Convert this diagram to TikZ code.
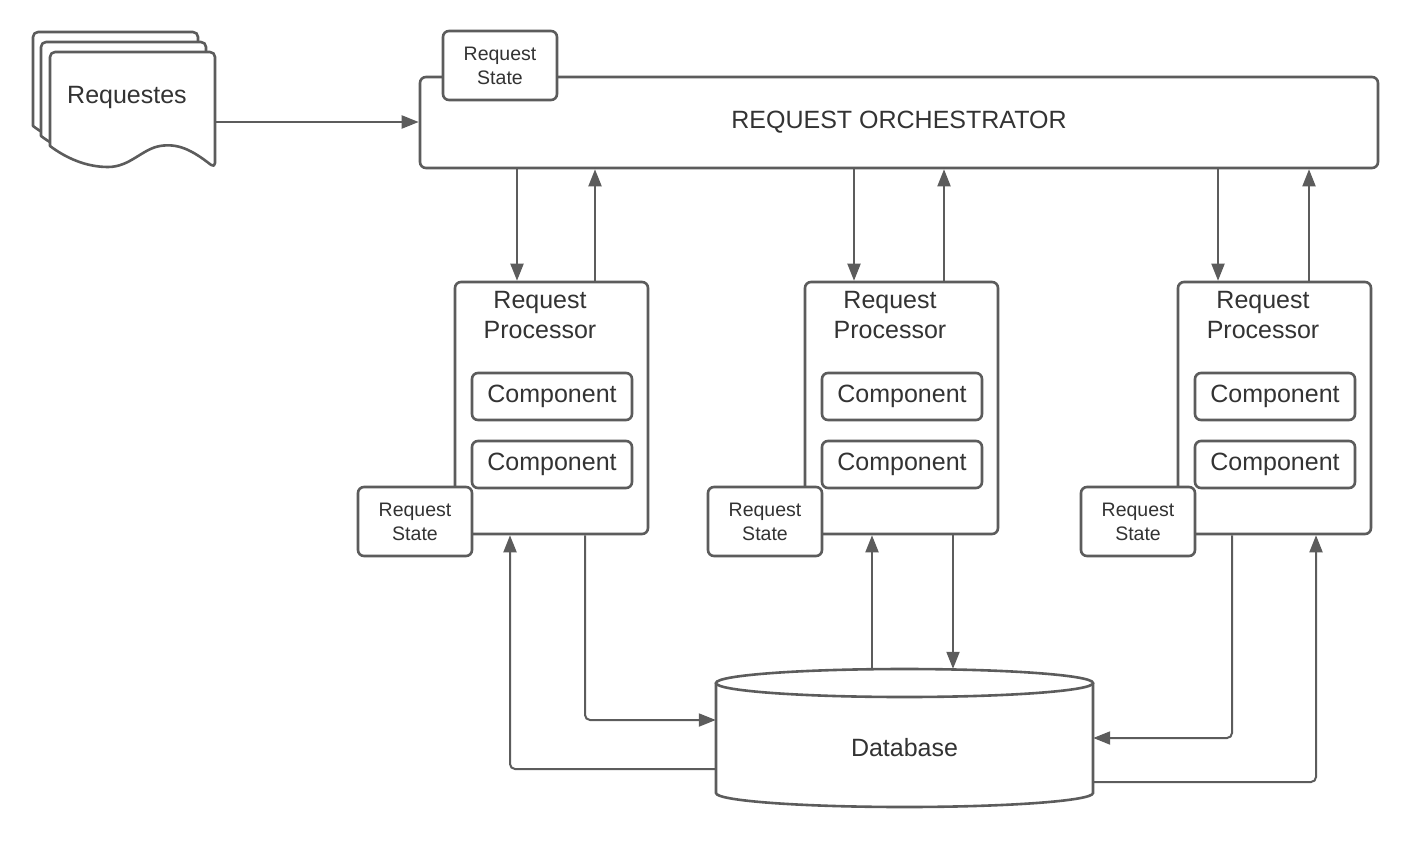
\documentclass[tikz,border=0pt]{standalone}
\usepackage{fontspec}
\setmainfont{Liberation Sans}
\usetikzlibrary{arrows.meta,positioning}
\definecolor{linegray}{HTML}{5C5C5C}
\definecolor{textgray}{HTML}{333333}
\newcommand{\docshape}{(50,146) -- (50,52) -- (215,52) -- (215,168)
  [sharp corners] .. controls (192,150) and (178,143) .. (160,146)
  .. controls (142,149) and (130,167) .. (108,167)
  .. controls (86,167) and (66,158) .. (50,146) -- cycle}

\begin{document}
\begin{tikzpicture}[
x=1pt,y=-1pt,
box/.style={
  draw=linegray,
  line width=2.6pt,
  fill=white,
  rounded corners=6pt,
  text=textgray,
  font=\fontsize{25}{30}\selectfont,
  align=center,
  inner sep=0pt
},
statebox/.style={
  box,
  minimum width=114pt,
  minimum height=69pt,
  font=\fontsize{19.5}{24}\selectfont
},
procbox/.style={
  box,
  minimum width=193pt,
  minimum height=252pt
},
comp/.style={
  box,
  minimum width=160pt,
  minimum height=47pt
},
title/.style={
  text=textgray,
  font=\fontsize{25}{30}\selectfont,
  align=center,
  inner sep=0pt
},
doc/.style={
  draw=linegray,
  line width=2.6pt,
  fill=white,
  line join=round,
  rounded corners=5pt
},
flow/.style={
  draw=linegray,
  line width=2pt,
  rounded corners=5pt,
  -{Triangle[length=17pt,width=13pt]}
}
]
\useasboundingbox (0,0) rectangle (1420,846);

% requests stack
\begin{scope}[shift={(-17,-20)}]
\draw[doc] \docshape;
\end{scope}
\begin{scope}[shift={(-9,-10)}]
\draw[doc] \docshape;
\end{scope}
\draw[doc] \docshape;
\node[title] (req) at (127,97) {Requestes};
\coordinate (reqr) at (215,122);

% orchestrator
\node[box,minimum width=958pt,minimum height=91pt] (orch) at (899,122.5)
  {REQUEST ORCHESTRATOR};
\node[statebox] (st0) at (500,65.5) {Request\\State};

% processors
\node[procbox] (p1) at (551.5,408) {};
\node[procbox] (p2) at (901.5,408) {};
\node[procbox] (p3) at (1274.5,408) {};

\node[title] (t1) at (540,315) {Request\\Processor};
\node[title] (t2) at (890,315) {Request\\Processor};
\node[title] (t3) at (1263,315) {Request\\Processor};

\node[comp] (c11) at (552,396.5) {Component};
\node[comp] (c12) at (552,464.5) {Component};
\node[comp] (c21) at (902,396.5) {Component};
\node[comp] (c22) at (902,464.5) {Component};
\node[comp] (c31) at (1275,396.5) {Component};
\node[comp] (c32) at (1275,464.5) {Component};

\node[statebox] (st1) at (415,521.5) {Request\\State};
\node[statebox] (st2) at (765,521.5) {Request\\State};
\node[statebox] (st3) at (1138,521.5) {Request\\State};

% database
\draw[linegray,line width=2.6pt,fill=white] (716,683) -- (716,793)
  arc[start angle=180,end angle=0,x radius=188.5,y radius=14] -- (1093,683);
\draw[linegray,line width=2.6pt,fill=white] (904.5,683)
  ellipse[x radius=188.5,y radius=14];
\node[title,minimum width=377pt,minimum height=158pt] (db) at (904.5,748) {Database};

% connectors
\draw[flow] (reqr) -- (reqr -| orch.west);

\draw[flow] (orch.south -| 517,0) -- (p1.north -| 517,0);
\draw[flow] (p1.north -| 595,0) -- (orch.south -| 595,0);
\draw[flow] (orch.south -| 854,0) -- (p2.north -| 854,0);
\draw[flow] (p2.north -| 944,0) -- (orch.south -| 944,0);
\draw[flow] (orch.south -| 1218,0) -- (p3.north -| 1218,0);
\draw[flow] (p3.north -| 1309,0) -- (orch.south -| 1309,0);

\draw[flow] (p1.south -| 585,0) |- (db.west |- 0,720);
\draw[flow] (db.west |- 0,769) -| (p1.south -| 510,0);
\draw[flow] (db.north -| 872,0) -- (p2.south -| 872,0);
\draw[flow] (p2.south -| 953,0) -- (db.north -| 953,0);
\draw[flow] (p3.south -| 1232,0) |- (db.east |- 0,738);
\draw[flow] (db.east |- 0,782) -| (p3.south -| 1316,0);
\end{tikzpicture}
\end{document}
